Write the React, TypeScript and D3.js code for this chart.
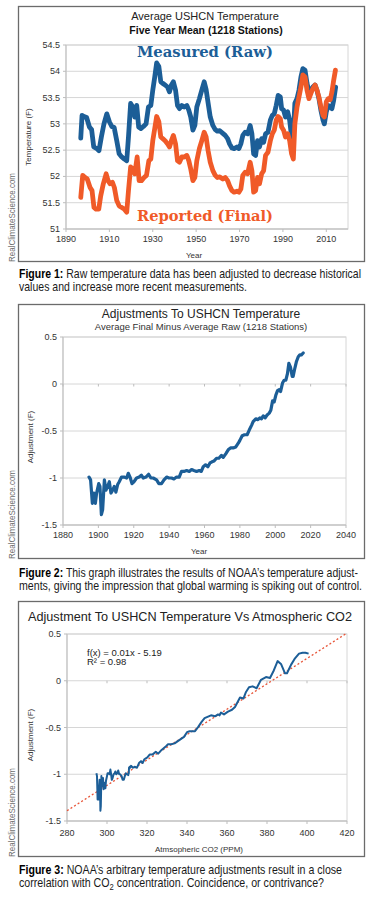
import React from "react";
import * as d3 from "d3";

// ---------- DATA ----------
const rawYears = [1896.8,1897.4,1898.3,1899.5,1900.8,1901.8,1902.8,1904.2,1905.2,1906.3,1907.5,1908.8,1910.0,1911.1,1912.2,1913.4,1914.5,1915.7,1916.9,1918.0,1918.8,1919.8,1920.8,1921.7,1922.6,1923.5,1924.5,1925.7,1926.9,1928.0,1929.1,1930.0,1930.9,1931.8,1932.8,1933.7,1934.6,1935.7,1936.8,1937.7,1938.6,1939.5,1940.5,1941.4,1942.3,1943.4,1944.5,1945.7,1946.6,1947.5,1948.5,1949.4,1950.3,1951.5,1952.6,1953.7,1954.6,1955.5,1956.5,1957.7,1958.8,1959.8,1960.9,1962.3,1963.4,1964.5,1965.4,1966.5,1967.5,1968.8,1969.7,1970.6,1971.5,1972.6,1973.7,1974.9,1975.7,1976.5,1977.4,1978.3,1979.2,1980.2,1981.1,1982.0,1983.1,1984.2,1985.1,1986.0,1986.9,1987.8,1988.8,1989.4,1990.3,1991.2,1992.2,1993.1,1994.0,1994.6,1995.5,1996.5,1997.4,1998.3,1999.2,2000.2,2001.1,2002.0,2002.9,2003.8,2004.8,2005.7,2006.6,2007.5,2008.5,2009.1,2010.0,2010.9,2011.8,2012.6,2013.4,2014.3];
const rawTemps = [52.73,53.16,53.14,53.12,52.94,52.89,52.56,52.53,52.49,52.75,53.00,53.19,53.04,52.95,52.93,52.68,52.43,52.37,52.33,52.30,52.75,53.39,53.32,53.13,53.35,52.94,52.91,52.95,53.00,53.32,53.35,53.64,53.89,54.16,54.09,53.80,53.77,53.74,53.70,53.61,53.74,53.80,53.64,53.35,53.29,53.35,53.32,53.35,53.26,53.13,52.88,52.97,53.32,53.48,53.64,53.80,53.65,53.40,53.13,52.97,52.89,52.86,52.87,52.82,52.78,52.72,52.62,52.54,52.53,52.56,52.53,52.62,52.78,52.84,52.81,52.97,52.81,52.43,52.40,52.68,52.56,52.72,52.65,52.81,52.84,53.07,53.16,53.19,53.35,53.54,53.51,53.29,53.26,53.13,53.23,53.07,52.75,52.62,53.39,53.48,53.64,53.89,54.05,54.02,53.77,53.61,53.64,53.70,53.74,53.64,53.48,53.26,53.07,53.00,53.23,53.35,53.32,53.29,53.45,53.70];

const finalYears = [1896.8,1897.7,1898.8,1899.8,1901.1,1902.0,1902.9,1903.8,1905.1,1906.0,1907.2,1908.5,1909.4,1910.3,1911.4,1912.3,1913.4,1914.5,1915.7,1916.8,1918.0,1918.8,1919.8,1920.8,1921.7,1922.8,1923.7,1924.8,1926.0,1927.1,1928.2,1929.1,1930.0,1930.9,1931.8,1932.8,1933.7,1934.6,1935.7,1936.8,1937.7,1938.6,1939.5,1940.5,1941.4,1942.3,1943.4,1944.5,1945.7,1946.6,1947.5,1948.5,1949.4,1950.3,1951.5,1952.6,1953.7,1954.6,1955.5,1956.5,1957.7,1958.8,1959.8,1960.9,1962.3,1963.4,1964.5,1965.4,1966.5,1967.5,1968.8,1969.7,1970.6,1971.5,1972.6,1973.7,1974.9,1975.7,1976.5,1977.4,1978.3,1979.2,1980.2,1981.1,1982.0,1983.1,1984.2,1985.1,1986.0,1986.9,1987.8,1988.8,1989.4,1990.3,1991.2,1992.2,1993.1,1994.0,1994.8,1995.5,1996.5,1997.4,1998.3,1999.2,2000.2,2001.1,2002.0,2002.9,2003.8,2004.8,2005.7,2006.6,2007.5,2008.5,2009.1,2010.0,2010.9,2011.8,2012.6,2013.4,2014.2];
const finalTemps = [51.60,52.02,51.98,51.95,51.79,51.73,51.41,51.38,51.38,51.63,51.86,52.05,51.92,51.86,51.89,51.79,51.54,51.44,51.41,51.38,51.32,51.73,52.18,52.14,52.05,52.37,51.92,51.92,51.98,52.02,52.30,52.33,52.68,52.91,53.14,53.04,52.75,52.72,52.68,52.62,52.56,52.68,52.78,52.62,52.30,52.27,52.37,52.37,52.40,52.30,52.14,51.92,51.98,52.30,52.53,52.68,52.84,52.75,52.49,52.27,52.11,52.02,51.98,51.99,51.95,51.98,51.92,51.82,51.73,51.70,51.72,51.70,51.76,52.02,52.08,52.05,52.27,52.11,51.70,51.73,51.98,51.86,52.05,52.11,52.40,52.46,52.68,52.81,52.88,53.07,53.14,53.10,52.94,52.88,52.75,52.81,52.68,52.43,52.33,53.00,53.32,53.51,53.70,53.93,53.89,53.64,53.48,53.58,53.67,53.74,53.64,53.51,53.32,53.16,53.13,53.42,53.48,53.46,53.61,53.83,54.02];

const adjYears = [1894.7,1895.6,1896.6,1897.5,1898.3,1899.0,1900.2,1900.9,1901.7,1902.4,1903.4,1904.3,1905.2,1906.2,1907.1,1908.1,1909.0,1909.9,1910.9,1911.8,1913.1,1914.5,1916.0,1916.9,1917.9,1919.0,1920.1,1921.6,1923.1,1924.3,1925.4,1926.9,1928.4,1929.7,1931.0,1932.9,1934.2,1935.7,1937.1,1938.6,1939.9,1941.4,1942.7,1944.2,1945.7,1947.0,1948.4,1949.9,1951.4,1952.7,1954.0,1955.5,1957.0,1958.2,1959.3,1960.6,1961.9,1963.1,1964.0,1965.3,1966.8,1968.1,1969.6,1970.6,1972.1,1973.4,1974.7,1976.2,1977.7,1979.1,1980.0,1981.3,1982.6,1984.1,1985.3,1986.6,1987.5,1989.0,1990.2,1991.3,1992.2,1993.2,1994.3,1995.4,1996.6,1997.5,1998.5,1999.4,2000.3,2001.3,2002.2,2003.0,2004.1,2005.0,2006.0,2006.9,2007.7,2008.6,2009.6,2010.1,2011.1,2012.0,2013.0,2013.9,2014.8,2015.8];
const adjValues = [-0.99,-1.02,-1.27,-1.16,-1.27,-1.16,-1.06,-1.09,-1.39,-1.34,-1.02,-1.13,-1.09,-1.04,-1.16,-1.13,-1.09,-1.15,-1.07,-1.04,-0.99,-0.99,-1.00,-0.95,-0.99,-1.06,-1.04,-1.00,-0.99,-0.97,-1.00,-0.99,-0.96,-1.00,-1.00,-1.02,-1.06,-1.06,-1.02,-0.99,-1.00,-1.00,-1.01,-0.99,-0.99,-0.93,-0.93,-0.92,-0.93,-0.91,-0.92,-0.93,-0.92,-0.93,-0.88,-0.86,-0.88,-0.84,-0.83,-0.82,-0.79,-0.79,-0.76,-0.78,-0.74,-0.70,-0.68,-0.68,-0.67,-0.63,-0.60,-0.55,-0.54,-0.54,-0.49,-0.44,-0.40,-0.37,-0.38,-0.36,-0.37,-0.34,-0.36,-0.33,-0.31,-0.28,-0.18,-0.19,-0.12,-0.07,-0.06,-0.08,0.01,0.04,0.04,0.11,0.22,0.18,0.08,0.08,0.17,0.24,0.29,0.31,0.31,0.33];
const co2Values = [294.7,295.0,295.3,295.6,295.8,296.0,296.3,296.5,296.7,296.9,297.2,297.4,297.7,298.0,298.3,298.6,298.9,299.2,299.5,299.8,300.3,300.8,301.3,301.7,302.0,302.4,302.8,303.3,303.8,304.2,304.6,305.1,305.6,306.1,306.6,307.3,307.8,308.4,308.9,309.4,309.9,310.4,310.6,310.8,310.9,311.0,311.1,311.3,311.6,312.0,312.5,313.0,313.8,315.0,316.0,317.0,317.8,318.7,319.4,320.2,321.3,322.7,324.4,325.6,327.3,329.5,330.5,332.1,333.8,336.5,338.5,340.0,341.3,344.0,345.7,347.3,348.8,352.0,354.0,355.5,356.3,357.0,358.5,360.5,362.5,364.0,366.5,368.2,369.5,371.0,372.8,374.8,377.0,379.5,381.5,383.4,385.3,387.0,389.0,390.0,392.0,394.0,396.0,397.8,399.2,400.8];
const co2Adj = [-0.99,-1.02,-1.27,-1.16,-1.27,-1.16,-1.06,-1.09,-1.39,-1.34,-1.02,-1.13,-1.09,-1.04,-1.16,-1.13,-1.09,-1.15,-1.07,-1.04,-0.99,-0.99,-1.00,-0.95,-0.99,-1.06,-1.04,-1.00,-0.99,-0.97,-1.00,-0.99,-0.96,-1.00,-1.00,-1.02,-1.06,-1.06,-1.02,-0.99,-1.00,-1.00,-1.01,-0.99,-0.99,-0.93,-0.93,-0.92,-0.93,-0.91,-0.92,-0.93,-0.92,-0.93,-0.88,-0.86,-0.88,-0.84,-0.83,-0.82,-0.79,-0.79,-0.76,-0.78,-0.74,-0.70,-0.68,-0.68,-0.67,-0.63,-0.60,-0.55,-0.54,-0.54,-0.49,-0.44,-0.40,-0.37,-0.38,-0.36,-0.37,-0.34,-0.36,-0.33,-0.31,-0.28,-0.18,-0.19,-0.12,-0.07,-0.06,-0.08,0.01,0.04,0.03,0.11,0.21,0.18,0.08,0.08,0.17,0.24,0.29,0.30,0.30,0.29];

const trendX = [280, 420];
const trendY = [-1.39, 0.51];

const p1XTicks = [1890, 1910, 1930, 1950, 1970, 1990, 2010];
const p1YTicks = [51, 51.5, 52, 52.5, 53, 53.5, 54, 54.5];
const p2XTicks = [1880, 1900, 1920, 1940, 1960, 1980, 2000, 2020, 2040];
const adjYTicks = [-1.5, -1, -0.5, 0, 0.5];
const p3XTicks = [280, 300, 320, 340, 360, 380, 400, 420];

// ---------- STYLE ----------
const BLUE = "#1c5e97";
const ORANGE = "#f05a28";
const GRID = "#d6d6d6";
const FONT = "'Liberation Sans', Arial, sans-serif";
const NARROW = "'Liberation Sans Narrow', 'Liberation Sans', Arial, sans-serif";
const SLAB = "'DejaVu Serif', serif";

type Pt = [number, number];

function zip(a: number[], b: number[]): Pt[] {
  return a.map((v, i) => [v, b[i]] as Pt);
}

function Frame({ top, bottom }: { top: number; bottom: number }) {
  return <rect x={18.5} y={top + 0.5} width={346} height={bottom - top} fill="none" stroke="#6b6b6b" strokeWidth={1.3} />;
}

function Watermark({ bottom }: { bottom: number }) {
  return (
    <text transform={`translate(15,${bottom}) rotate(-90)`} fontFamily={FONT} fontSize={9.3} fill="#6d6d6d" textLength={89} lengthAdjust="spacingAndGlyphs">
      RealClimateScience.com
    </text>
  );
}

function Axes({ x, y, xTicks, yTicks, yFmt, xLabelY, zeroTicks }: any) {
  const [x0, x1] = x.range();
  const [yb, yt] = y.range();
  return (
    <g fontFamily={FONT} fontSize={9} fill="#333">
      {yTicks.map((t: number) => (
        <line key={"g" + t} x1={x0} x2={x1} y1={y(t)} y2={y(t)} stroke={GRID} strokeWidth={1} />
      ))}
      <rect x={x0} y={yt} width={x1 - x0} height={yb - yt} fill="none" stroke={GRID} strokeWidth={1} />
      <line x1={x0} x2={x0} y1={yt} y2={yb} stroke="#bdbdbd" />
      <line x1={x0} x2={x1} y1={yb} y2={yb} stroke="#bdbdbd" />
      {yTicks.map((t: number) => (
        <g key={"y" + t}>
          <line x1={x0 - 3} x2={x0} y1={y(t)} y2={y(t)} stroke="#bdbdbd" />
          <text x={x0 - 6} y={y(t) + 3} textAnchor="end">{yFmt(t)}</text>
        </g>
      ))}
      {xTicks.map((t: number) => (
        <g key={"x" + t}>
          <line x1={x(t)} x2={x(t)} y1={yb} y2={yb + 3} stroke="#bdbdbd" />
          {zeroTicks ? <line x1={x(t)} x2={x(t)} y1={y(0)} y2={y(0) + 2.5} stroke="#bdbdbd" /> : null}
          <text x={x(t)} y={xLabelY} textAnchor="middle">{t}</text>
        </g>
      ))}
    </g>
  );
}

function Caption({ y, label, lines, widths }: { y: number[]; label: string; lines: any[]; widths: number[] }) {
  return (
    <g fontFamily={NARROW} fontSize={12.6} fill="#1a1a1a">
      <text x={19} y={y[0]} textLength={widths[0]} lengthAdjust="spacingAndGlyphs">
        <tspan fontWeight="bold" fill="#000">{label}</tspan>
        {lines[0]}
      </text>
      <text x={19} y={y[1]} textLength={widths[1]} lengthAdjust="spacingAndGlyphs">{lines[1]}</text>
    </g>
  );
}

export default function App() {
  // Panel 1
  const x1 = d3.scaleLinear().domain([1890, 2020]).range([66, 348]);
  const y1 = d3.scaleLinear().domain([51, 54.5]).range([229, 45]);
  const line1 = d3.line<Pt>().x((d) => x1(d[0])).y((d) => y1(d[1])).curve(d3.curveLinear);
  // Panel 2
  const x2 = d3.scaleLinear().domain([1880, 2040]).range([63, 346]);
  const y2 = d3.scaleLinear().domain([-1.5, 0.5]).range([525, 337]);
  const line2 = d3.line<Pt>().x((d) => x2(d[0])).y((d) => y2(d[1]));
  // Panel 3
  const x3 = d3.scaleLinear().domain([280, 420]).range([67, 347]);
  const y3 = d3.scaleLinear().domain([-1.5, 0.5]).range([821, 634]);
  const line3 = d3.line<Pt>().x((d) => x3(d[0])).y((d) => y3(d[1]));

  const adjFmt = (v: number) => (v === 0 ? "0" : String(v));

  return (
    <svg width={375} height={899} style={{ position: "absolute", left: 0, top: 0, background: "#fff" }}>
      <rect width={375} height={899} fill="#fff" />

      {/* ---------- Panel 1 ---------- */}
      <Frame top={6} bottom={261} />
      <Watermark bottom={262} />
      <text x={205} y={20} textAnchor="middle" fontFamily={FONT} fontSize={11} fill="#222">Average USHCN Temperature</text>
      <text x={206} y={34} textAnchor="middle" fontFamily={FONT} fontSize={10.5} fontWeight="bold" fill="#111">Five Year Mean (1218 Stations)</text>
      <Axes x={x1} y={y1} xTicks={p1XTicks} yTicks={p1YTicks} yFmt={(v: number) => String(v)} xLabelY={242} />
      <text transform="translate(31,137) rotate(-90)" textAnchor="middle" fontFamily={FONT} fontSize={8} fill="#333">Temperature (F)</text>
      <text x={194} y={258} textAnchor="middle" fontFamily={FONT} fontSize={8} fill="#333">Year</text>
      <path d={line1(zip(rawYears, rawTemps)) || ""} fill="none" stroke={BLUE} strokeWidth={4.8} strokeLinejoin="round" strokeLinecap="round" />
      <path d={line1(zip(finalYears, finalTemps)) || ""} fill="none" stroke={ORANGE} strokeWidth={4.8} strokeLinejoin="round" strokeLinecap="round" />
      <text x={205} y={57} textAnchor="middle" fontFamily={SLAB} fontWeight="bold" fontSize={15} fill={BLUE} textLength={136} lengthAdjust="spacingAndGlyphs">Measured (Raw)</text>
      <text x={205} y={221} textAnchor="middle" fontFamily={SLAB} fontWeight="bold" fontSize={15} fill={ORANGE} textLength={136} lengthAdjust="spacingAndGlyphs">Reported (Final)</text>

      <Caption y={[278, 291]} label="Figure 1:" lines={[" Raw temperature data has been adjusted to decrease historical", "values and increase more recent measurements."]} widths={[342, 228]} />

      {/* ---------- Panel 2 ---------- */}
      <Frame top={304} bottom={558} />
      <Watermark bottom={559} />
      <text x={201} y={318} textAnchor="middle" fontFamily={FONT} fontSize={12} fill="#222">Adjustments To USHCN Temperature</text>
      <text x={201} y={330} textAnchor="middle" fontFamily={FONT} fontSize={9.5} fill="#333">Average Final Minus Average Raw (1218 Stations)</text>
      <Axes x={x2} y={y2} xTicks={p2XTicks} yTicks={adjYTicks} yFmt={adjFmt} xLabelY={538} zeroTicks />
      <text transform="translate(33,437) rotate(-90)" textAnchor="middle" fontFamily={FONT} fontSize={8} fill="#333">Adjustment (F)</text>
      <text x={199} y={554} textAnchor="middle" fontFamily={FONT} fontSize={8} fill="#333">Year</text>
      <path d={line2(zip(adjYears, adjValues)) || ""} fill="none" stroke={BLUE} strokeWidth={3.2} strokeLinejoin="round" strokeLinecap="round" />

      <Caption y={[577, 590]} label="Figure 2:" lines={[" This graph illustrates the results of NOAA’s temperature adjust-", "ments, giving the impression that global warming is spiking out of control."]} widths={[339, 343]} />

      {/* ---------- Panel 3 ---------- */}
      <Frame top={601} bottom={856} />
      <Watermark bottom={857} />
      <text x={190} y={621} textAnchor="middle" fontFamily={FONT} fontSize={12.3} fill="#222" textLength={324} lengthAdjust="spacingAndGlyphs">Adjustment To USHCN Temperature Vs Atmospheric CO2</text>
      <Axes x={x3} y={y3} xTicks={p3XTicks} yTicks={adjYTicks} yFmt={adjFmt} xLabelY={836} zeroTicks />
      <text transform="translate(33,735) rotate(-90)" textAnchor="middle" fontFamily={FONT} fontSize={8} fill="#333">Adjustment (F)</text>
      <text x={199} y={852} textAnchor="middle" fontFamily={FONT} fontSize={8} fill="#333">Atmsopheric CO2 (PPM)</text>
      <path d={line3(zip(trendX, trendY)) || ""} fill="none" stroke="#e8563a" strokeWidth={1.3} strokeDasharray="2,2.2" />
      <path d={line3(zip(co2Values, co2Adj)) || ""} fill="none" stroke={BLUE} strokeWidth={2} strokeLinejoin="round" />
      <text x={87} y={656} fontFamily={FONT} fontSize={9.5} fill="#222">f(x) = 0.01x - 5.19</text>
      <text x={87} y={665} fontFamily={FONT} fontSize={9.5} fill="#222">R² = 0.98</text>

      <g fontFamily={NARROW} fontSize={12.6} fill="#1a1a1a">
        <text x={19} y={873.5} textLength={323} lengthAdjust="spacingAndGlyphs">
          <tspan fontWeight="bold" fill="#000">Figure 3:</tspan> NOAA’s arbitrary temperature adjustments result in a close
        </text>
        <text x={19} y={886.5} textLength={305} lengthAdjust="spacingAndGlyphs">
          correlation with CO<tspan fontSize={9} dy={3}>2</tspan><tspan dy={-3}> concentration. Coincidence, or contrivance?</tspan>
        </text>
      </g>
    </svg>
  );
}
